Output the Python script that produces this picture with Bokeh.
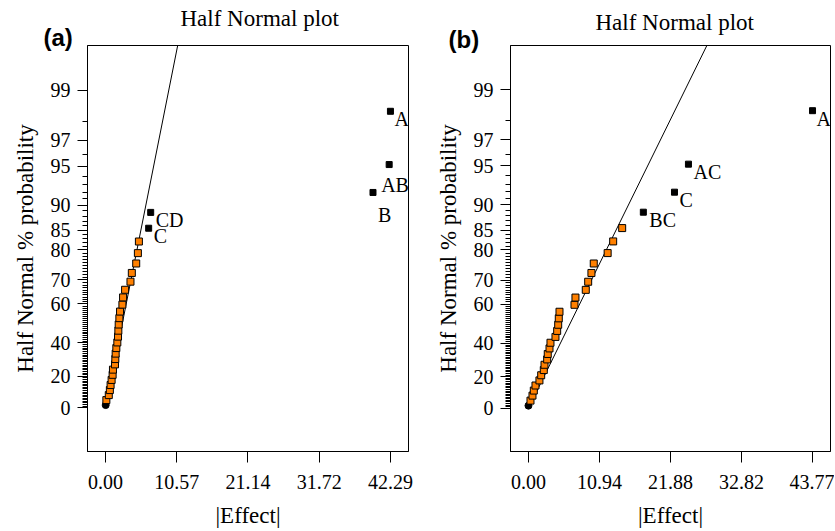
from statistics import NormalDist
from bokeh.plotting import figure
from bokeh.layouts import row
from bokeh.models import (Range1d, FixedTicker, CustomJSTickFormatter,
                          ColumnDataSource, Title)
from bokeh.core.properties import value
from bokeh.embed import file_html
from bokeh.resources import INLINE

# ---------------- data ----------------
# half-normal plotting probabilities (%) of the 31 ranked effects
prob = [1.61, 4.84, 8.06, 11.29, 14.52, 17.74, 20.97, 24.19, 27.42, 30.65,
        33.87, 37.10, 40.32, 43.55, 46.77, 50.00, 53.23, 56.45, 59.68, 62.90,
        66.13, 69.35, 72.58, 75.81, 79.03, 82.26, 85.48, 88.71, 91.94, 95.16,
        98.39]

# panel (a): |effect| values, ascending
a_effect = [0.02, 0.12, 0.48, 0.64, 0.75, 0.90, 1.05, 1.10, 1.40, 1.45,
            1.50, 1.60, 1.75, 1.85, 1.90, 1.95, 2.05, 2.15, 2.50, 2.60,
            2.90, 3.70, 3.90, 4.55, 4.80, 4.95, 6.40, 6.70, 39.70, 42.10,
            42.29]
a_names = ["C", "CD", "B", "AB", "A"]
a_fit_slope = 3.64          # |effect| per half-normal quantile
a_xticks = [0.00, 10.57, 21.14, 31.72, 42.29]
a_xlabels = ["0.00", "10.57", "21.14", "31.72", "42.29"]

# panel (b)
b_effect = [0.00, 0.31, 0.62, 0.82, 1.08, 1.69, 1.96, 2.36, 2.47, 2.88,
            2.97, 3.24, 3.39, 4.16, 4.42, 4.58, 4.67, 4.78, 7.09, 7.24,
            8.83, 9.20, 9.70, 10.06, 12.20, 13.05, 14.44, 17.70, 22.50, 24.65,
            43.77]
b_names = ["BC", "C", "AC", "A"]
b_fit_slope = 9.37
b_xticks = [0.00, 10.94, 21.88, 32.82, 43.77]
b_xlabels = ["0.00", "10.94", "21.88", "32.82", "43.77"]

y_major_pct = [0, 20, 40, 60, 70, 80, 85, 90, 95, 97, 99]
y_minor_pct = [k for k in range(1, 99) if k not in y_major_pct]

# label placement (screen px offsets from the point)
a_lab_dx = [5, 5, 5, -8, 4]
a_lab_dy = [8, 8, 23, 20, 8]
b_lab_dx = [6, 5, 5, 4]
b_lab_dy = [8, 8, 8, 8]

# ---------------- helpers ----------------
ND = NormalDist()


def hz(p):
    """half-normal quantile for a probability in %"""
    return ND.inv_cdf(0.5 + p / 200.0)


SERIF = "Liberation Serif"
ORANGE = "#FF8000"
H = 530

JS_NEAREST = """
let best = 0, bd = 1e99;
for (let i = 0; i < t.length; i++) {
  const d = Math.abs(t[i] - tick);
  if (d < bd) { bd = d; best = i; }
}
return l[best];
"""


def panel(effects, names, slope, xticks, xlabels, xr, yr, tag, tag_off,
          width, mbl, mbr, mbt, title_off, tag_so, title_so, dx, dy):
    p = figure(width=width, height=H, x_range=Range1d(*xr),
               y_range=Range1d(*yr), output_backend="svg",
               toolbar_location=None, min_border_left=mbl,
               min_border_right=mbr, min_border_top=mbt, min_border_bottom=78)
    p.title_location = None
    # panel tag (inner) and plot title (outer)
    p.add_layout(Title(text=tag, align="left", offset=tag_off,
                       text_font="Liberation Sans", text_font_size="24px",
                       text_font_style="bold", text_color="black",
                       standoff=tag_so), "above")
    p.add_layout(Title(text="Half Normal plot", align="left",
                       offset=title_off, text_font=SERIF,
                       text_font_size="23px", text_font_style="normal",
                       text_color="black", standoff=title_so), "above")
    p.grid.visible = False
    p.outline_line_color = "black"
    p.outline_line_width = 1
    p.background_fill_color = "white"
    p.border_fill_color = "white"

    z = [hz(v) for v in prob]
    n_sig = len(names)
    ztop = yr[1] + 0.2
    # fitted line through the origin
    p.line([0.0, slope * ztop], [0.0, ztop], line_color="black", line_width=1)

    # smallest effect
    p.scatter([effects[0]], [z[0]], marker="circle", size=7,
              fill_color="black", line_color="black")
    # error estimates
    p.scatter(effects[1:len(effects) - n_sig], z[1:len(effects) - n_sig],
              marker="square", size=7, fill_color=ORANGE, line_color="black",
              line_width=1)
    # significant effects
    src = ColumnDataSource(dict(x=effects[-n_sig:], y=z[-n_sig:], t=names,
                                dx=dx, dy=dy))
    p.scatter("x", "y", source=src, marker="square", size=6,
              fill_color="black", line_color="black")
    p.text("x", "y", text="t", x_offset="dx", y_offset="dy", source=src,
           text_font=value(SERIF), text_font_size="20px",
           text_baseline="middle", text_align="left", text_color="black")

    # x axis
    xa = p.xaxis[0]
    xa.ticker = FixedTicker(ticks=xticks, minor_ticks=[])
    xa.formatter = CustomJSTickFormatter(args=dict(t=xticks, l=xlabels),
                                         code=JS_NEAREST)
    xa.axis_label = "|Effect|"
    xa.major_tick_out = 11
    xa.major_tick_in = 0
    xa.minor_tick_line_color = None
    xa.major_label_standoff = 12
    xa.axis_label_standoff = 11

    # y axis
    ya = p.yaxis[0]
    yt = [hz(v) for v in y_major_pct]
    ya.ticker = FixedTicker(ticks=yt, minor_ticks=[hz(v) for v in y_minor_pct])
    ya.formatter = CustomJSTickFormatter(
        args=dict(t=yt, l=[str(v) for v in y_major_pct]), code=JS_NEAREST)
    ya.axis_label = "Half Normal % probability"
    ya.major_tick_out = 10
    ya.major_tick_in = 0
    ya.minor_tick_out = 5
    ya.minor_tick_in = 0
    ya.major_label_standoff = 7
    ya.axis_label_standoff = 10

    for ax in (xa, ya):
        ax.axis_line_color = "black"
        ax.major_tick_line_color = "black"
        ax.major_label_text_font = SERIF
        ax.major_label_text_font_size = "20px"
        ax.major_label_text_color = "black"
        ax.axis_label_text_font = SERIF
        ax.axis_label_text_font_size = "23px"
        ax.axis_label_text_font_style = "normal"
        ax.axis_label_text_color = "black"
    ya.minor_tick_line_color = "black"
    return p


pa = panel(a_effect, a_names, a_fit_slope, a_xticks, a_xlabels,
           (-2.68, 44.97), (-0.357, 2.941), "(a)", -44,
           width=428, mbl=87, mbr=20, mbt=45, title_off=93,
           tag_so=-11, title_so=-7, dx=a_lab_dx, dy=a_lab_dy)
pb = panel(b_effect, b_names, b_fit_slope, b_xticks, b_xlabels,
           (-2.77, 46.54), (-0.351, 2.934), "(b)", -62,
           width=406, mbl=82, mbr=4, mbt=40, title_off=85,
           tag_so=-14, title_so=-8, dx=b_lab_dx, dy=b_lab_dy)

layout = row(pa, pb)
open("out.html", "w").write(file_html(layout, INLINE))
